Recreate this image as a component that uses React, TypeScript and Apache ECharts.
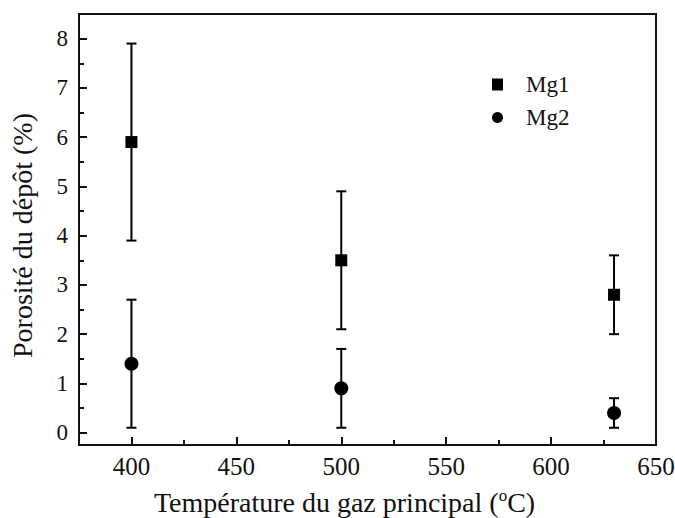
import React, { useEffect, useRef } from "react";
import * as echarts from "echarts";

const temperatures = [400, 500, 630];
const mg1Values = [5.9, 3.5, 2.8];
const mg1Low = [3.9, 2.1, 2.0];
const mg1High = [7.9, 4.9, 3.6];
const mg2Values = [1.4, 0.9, 0.4];
const mg2Low = [0.1, 0.1, 0.1];
const mg2High = [2.7, 1.7, 0.7];
const seriesNames = ["Mg1", "Mg2"];

const FONT = "Liberation Serif";

function errorRenderItem(params: any, api: any) {
  const x = api.value(0);
  const lo = api.coord([x, api.value(1)]);
  const hi = api.coord([x, api.value(2)]);
  const cap = 5;
  const style = { stroke: "#000", lineWidth: 2 };
  return {
    type: "group",
    children: [
      { type: "line", shape: { x1: lo[0], y1: lo[1], x2: hi[0], y2: hi[1] }, style },
      { type: "line", shape: { x1: lo[0] - cap, y1: lo[1], x2: lo[0] + cap, y2: lo[1] }, style },
      { type: "line", shape: { x1: hi[0] - cap, y1: hi[1], x2: hi[0] + cap, y2: hi[1] }, style },
    ],
  };
}

export default function App() {
  const ref = useRef<HTMLDivElement>(null);
  useEffect(() => {
    if (!ref.current) return;
    const chart = echarts.init(ref.current, null, { renderer: "svg" });
    chart.setOption({
      animation: false,
      backgroundColor: "#fff",
      textStyle: { fontFamily: FONT, color: "#111" },
      grid: {
        left: 79,
        top: 14,
        right: 19,
        bottom: 73,
        show: true,
        borderColor: "#111",
        borderWidth: 2,
        backgroundColor: "transparent",
        containLabel: false,
        outerBoundsMode: "none",
      },
      legend: {
        orient: "vertical",
        left: 487,
        top: 68,
        itemWidth: 11,
        itemHeight: 12,
        itemGap: 10,
        textStyle: { color: "#111", fontFamily: FONT, fontSize: 23, padding: [0, 0, 0, 18] },
        data: [
          { name: seriesNames[0], icon: "rect" },
          { name: seriesNames[1], icon: "circle" },
        ],
      },
      xAxis: {
        type: "value",
        min: 375,
        max: 650,
        minInterval: 50,
        maxInterval: 50,
        splitNumber: 5,
        name: "Température du gaz principal ({sup|o}C)",
        nameLocation: "middle",
        nameGap: 42,
        nameTextStyle: {
          color: "#111",
          fontFamily: FONT,
          fontSize: 28,
          padding: [0, 46, 0, 0],
          rich: {
            sup: { fontFamily: FONT, fontSize: 17, color: "#111", verticalAlign: "top", lineHeight: 30 },
          },
        },
        axisLine: { show: true, onZero: false, lineStyle: { color: "#111", width: 2 } },
        axisTick: { show: true, inside: true, length: 8, lineStyle: { color: "#111", width: 2 } },
        minorTick: { show: true, splitNumber: 2, length: 5, lineStyle: { color: "#111", width: 2 } },
        axisLabel: {
          show: true,
          margin: 9,
          color: "#111",
          fontFamily: FONT,
          fontSize: 25,
          showMinLabel: false,
        },
        splitLine: { show: false },
      },
      yAxis: {
        type: "value",
        min: -0.25,
        max: 8.5,
        minInterval: 1,
        maxInterval: 1,
        splitNumber: 8,
        name: "Porosité du dépôt (%)",
        nameLocation: "middle",
        nameRotate: 90,
        nameGap: 43,
        nameTextStyle: { color: "#111", fontFamily: FONT, fontSize: 28, padding: [0, 12, 0, 0] },
        axisLine: { show: true, onZero: false, lineStyle: { color: "#111", width: 2 } },
        axisTick: { show: true, inside: true, length: 8, lineStyle: { color: "#111", width: 2 } },
        minorTick: { show: true, splitNumber: 2, length: 5, lineStyle: { color: "#111", width: 2 } },
        axisLabel: {
          show: true,
          margin: 11,
          color: "#111",
          fontFamily: FONT,
          fontSize: 23,
          showMinLabel: false,
          showMaxLabel: false,
        },
        splitLine: { show: false },
      },
      series: [
        {
          name: "Mg1 error",
          type: "custom",
          renderItem: errorRenderItem,
          encode: { x: 0, y: [1, 2] },
          data: temperatures.map((t, i) => [t, mg1Low[i], mg1High[i]]),
          z: 1,
        },
        {
          name: "Mg2 error",
          type: "custom",
          renderItem: errorRenderItem,
          encode: { x: 0, y: [1, 2] },
          data: temperatures.map((t, i) => [t, mg2Low[i], mg2High[i]]),
          z: 1,
        },
        {
          name: seriesNames[0],
          type: "scatter",
          symbol: "rect",
          symbolSize: 12,
          itemStyle: { color: "#000", opacity: 1 },
          data: temperatures.map((t, i) => [t, mg1Values[i]]),
          z: 3,
        },
        {
          name: seriesNames[1],
          type: "scatter",
          symbol: "circle",
          symbolSize: 14,
          itemStyle: { color: "#000", opacity: 1 },
          data: temperatures.map((t, i) => [t, mg2Values[i]]),
          z: 3,
        },
      ],
    });
    return () => chart.dispose();
  }, []);
  return (
    <div
      ref={ref}
      style={{ position: "absolute", left: 0, top: 0, width: 675, height: 518 }}
    />
  );
}
